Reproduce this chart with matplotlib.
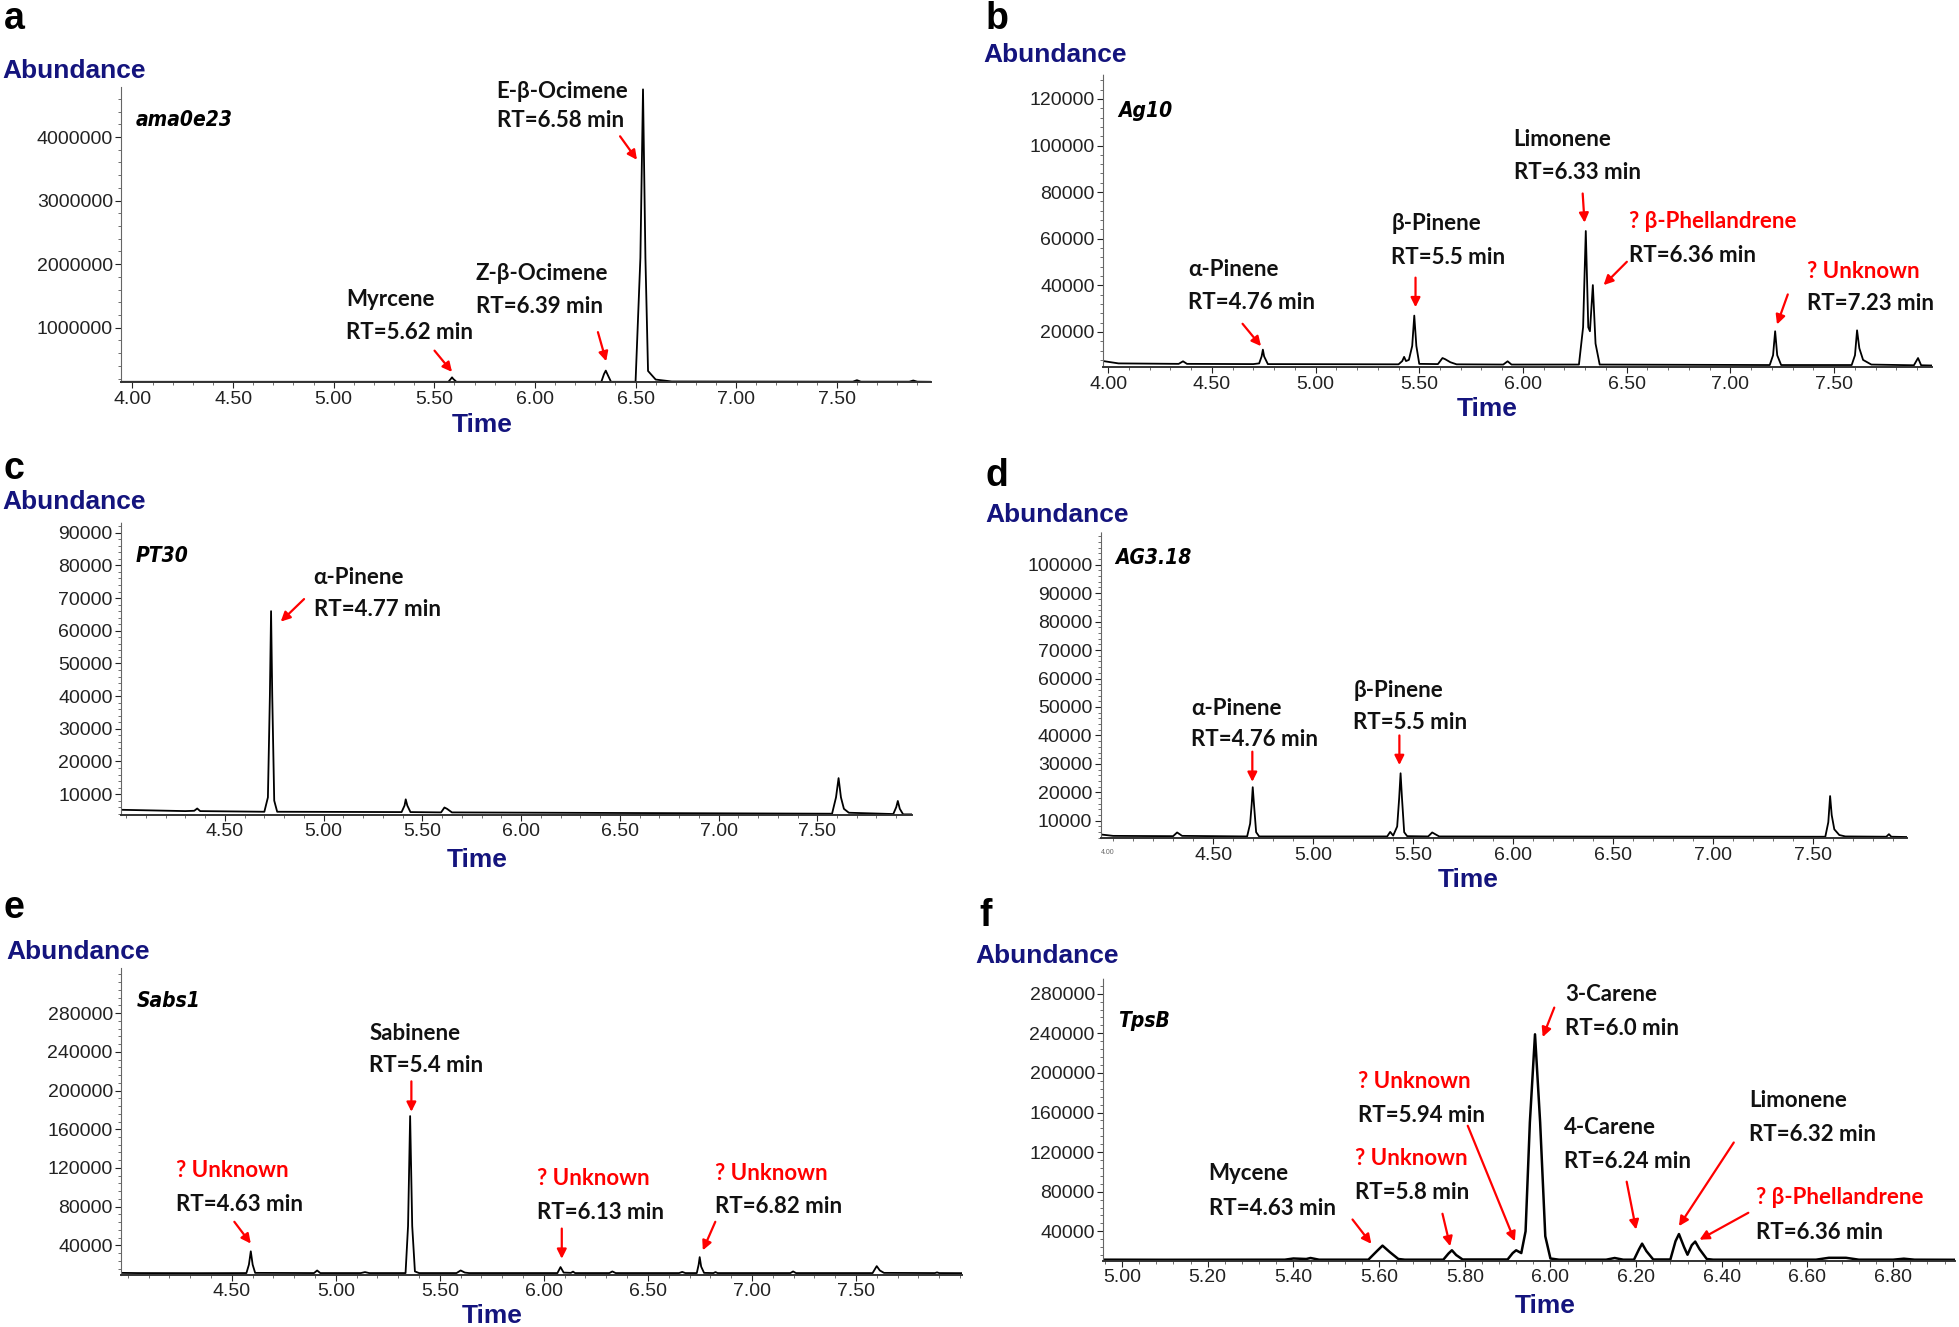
import matplotlib.pyplot as plt
from matplotlib.ticker import AutoMinorLocator

plt.rcParams['font.family'] = ['Liberation Sans', 'DejaVu Sans']
LBL = ['Lato', 'DejaVu Sans']
NAVY = '#14147d'
RED = '#ff0000'
W, H = 1568, 1062   # layout grid of the reference (px)

#%% data: chromatogram vertices (time min, abundance)
trace_a = [(3.944, 150000), (5.570, 150000), (5.582, 195000), (5.588, 220000), (5.594, 195000),
           (5.610, 150000), (6.330, 150000), (6.343, 270000), (6.352, 326000), (6.360, 270000),
           (6.378, 150000), (6.500, 150000), (6.524, 2100000), (6.537, 4750000), (6.549, 2100000),
           (6.562, 320000), (6.600, 185000), (6.680, 155000), (7.580, 152000), (7.600, 175000),
           (7.620, 152000), (7.860, 152000), (7.880, 170000), (7.900, 152000), (7.967, 150000)]

trace_b = [(3.976, 7500), (4.05, 6500), (4.34, 6300), (4.361, 7400), (4.38, 6300), (4.70, 6200),
           (4.728, 6500), (4.740, 9500), (4.746, 12400), (4.752, 9500), (4.770, 6200), (5.40, 6100),
           (5.418, 7500), (5.427, 9300), (5.436, 7500), (5.450, 8000), (5.466, 14000), (5.476, 27000),
           (5.486, 14000), (5.500, 6300), (5.590, 6200), (5.612, 8800), (5.625, 8300), (5.650, 7000),
           (5.680, 6100), (5.905, 6000), (5.926, 7400), (5.945, 6000), (6.270, 6000), (6.290, 22000),
           (6.303, 63300), (6.315, 22000), (6.323, 20300), (6.337, 40100), (6.350, 15000), (6.370, 6000),
           (7.190, 5800), (7.206, 10000), (7.216, 20300), (7.226, 10000), (7.245, 5800), (7.585, 5800),
           (7.601, 10000), (7.611, 20700), (7.622, 13000), (7.640, 8000), (7.680, 6000), (7.885, 5700),
           (7.905, 8800), (7.920, 5700), (7.970, 5600)]

trace_c = [(3.975, 5200), (4.30, 4800), (4.345, 4900), (4.36, 5600), (4.375, 4800), (4.70, 4600),
           (4.718, 9000), (4.728, 40000), (4.734, 66000), (4.740, 40000), (4.750, 8000), (4.765, 4600),
           (5.395, 4500), (5.410, 6500), (5.416, 8400), (5.424, 6500), (5.440, 4500), (5.595, 4400),
           (5.612, 5900), (5.625, 5500), (5.650, 4400), (7.575, 4000), (7.595, 9000), (7.608, 14900),
           (7.620, 9000), (7.635, 5500), (7.660, 4300), (7.885, 3900), (7.900, 6000), (7.908, 7900),
           (7.918, 5500), (7.935, 3800), (7.980, 3800)]

trace_d = [(3.938, 5200), (4.00, 4700), (4.30, 4600), (4.32, 5900), (4.345, 4700), (4.67, 4500),
           (4.685, 9000), (4.693, 16000), (4.698, 21800), (4.704, 16000), (4.715, 6000), (4.73, 4500),
           (5.37, 4500), (5.385, 6100), (5.40, 4800), (5.42, 8000), (5.430, 18000), (5.437, 26700),
           (5.444, 18000), (5.455, 6000), (5.47, 4600), (5.575, 4500), (5.595, 5900), (5.61, 5300),
           (5.63, 4500), (7.560, 4400), (7.575, 9500), (7.584, 18700), (7.592, 12000), (7.605, 7000),
           (7.63, 5000), (7.66, 4500), (7.865, 4400), (7.878, 5300), (7.89, 4400), (7.966, 4300)]

trace_e = [(3.968, 11500), (4.05, 11300), (4.33, 11200), (4.57, 11300), (4.582, 20000), (4.591, 33800),
           (4.600, 20000), (4.612, 11500), (4.895, 11300), (4.910, 14000), (4.925, 11300), (5.12, 11300),
           (5.14, 12300), (5.16, 11300), (5.335, 11300), (5.347, 60000), (5.357, 173600), (5.367, 60000),
           (5.380, 13000), (5.40, 11300), (5.58, 11300), (5.600, 14000), (5.62, 11800), (5.64, 11300),
           (6.065, 11300), (6.080, 17500), (6.095, 11800), (6.130, 11500), (6.140, 12800), (6.150, 11300),
           (6.315, 11300), (6.329, 13000), (6.345, 11300), (6.65, 11300), (6.665, 12500), (6.68, 11300),
           (6.735, 11300), (6.744, 20000), (6.749, 27800), (6.756, 18000), (6.770, 11500), (6.815, 11300),
           (6.825, 12300), (6.835, 11300), (7.185, 11300), (7.198, 13000), (7.212, 11300), (7.580, 11300),
           (7.600, 18500), (7.615, 14000), (7.635, 11500), (7.88, 11300), (7.89, 12000), (7.90, 11300),
           (8.01, 11200)]

trace_f = [(4.956, 11300), (5.10, 11200), (5.38, 11300), (5.40, 12500), (5.43, 12000), (5.44, 13000),
           (5.46, 11300), (5.575, 11300), (5.595, 20000), (5.608, 25500), (5.625, 19000), (5.645, 12000),
           (5.66, 11300), (5.750, 11300), (5.762, 17500), (5.770, 20800), (5.780, 16000), (5.795, 11500),
           (5.900, 11500), (5.912, 18000), (5.920, 20800), (5.932, 18000), (5.942, 40000), (5.952, 150000),
           (5.964, 239000), (5.976, 150000), (5.988, 35000), (6.00, 12500), (6.02, 11300), (6.13, 11300),
           (6.15, 13000), (6.17, 11300), (6.195, 11300), (6.207, 22000), (6.214, 27500), (6.224, 20000),
           (6.240, 11500), (6.280, 11500), (6.292, 30000), (6.300, 37200), (6.312, 24000), (6.320, 16300),
           (6.330, 26000), (6.338, 29600), (6.348, 22000), (6.365, 12000), (6.38, 11300), (6.62, 11300),
           (6.65, 13200), (6.69, 13200), (6.72, 11300), (6.80, 11300), (6.825, 12300), (6.85, 11300),
           (6.945, 11200)]

samples = ['ama0e23', 'Ag10', 'PT30', 'AG3.18', 'Sabs1', 'TpsB']

# peak labels: name, RT text, name in red?, text (x, y line1, y line2), arrow tail, arrow head
labels_a = [("Myrcene", "RT=5.62 min", False, (5.060, 1446000, 919000), (5.501, 640000), (5.588, 305000)),
            ("Z-β-Ocimene", "RT=6.39 min", False, (5.705, 1853000, 1342000), (6.313, 931000), (6.354, 473000)),
            ("E-β-Ocimene", "RT=6.58 min", False, (5.810, 4713000, 4265000), (6.423, 4012000), (6.507, 3642000))]
labels_b = [("α-Pinene", "RT=4.76 min", False, (4.385, 46800, 32500), (4.648, 23500), (4.737, 13900)),
            ("β-Pinene", "RT=5.5 min", False, (5.365, 66500, 52100), (5.482, 43300), (5.482, 30600)),
            ("Limonene", "RT=6.33 min", False, (5.955, 102700, 88400), (6.288, 79400), (6.297, 66900)),
            ("? β-Phellandrene", "RT=6.36 min", True, (6.512, 67300, 53000), (6.501, 50100), (6.389, 40100)),
            ("? Unknown", "RT=7.23 min", True, (7.370, 46100, 32100), (7.277, 36100), (7.225, 23200))]
labels_c = [("α-Pinene", "RT=4.77 min", False, (4.950, 76300, 66600), (4.901, 69700), (4.783, 62800))]
labels_d = [("α-Pinene", "RT=4.76 min", False, (4.390, 49600, 38400), (4.696, 34300), (4.696, 23700)),
            ("β-Pinene", "RT=5.5 min", False, (5.200, 55700, 44600), (5.431, 40000), (5.431, 29600))]
labels_e = [("? Unknown", "RT=4.63 min", True, (4.232, 117000, 82300), (4.512, 64300), (4.591, 41800)),
            ("Sabinene", "RT=5.4 min", False, (5.160, 259300, 225800), (5.363, 209500), (5.363, 178100)),
            ("? Unknown", "RT=6.13 min", True, (5.965, 108700, 74000), (6.086, 57300), (6.086, 26100)),
            ("? Unknown", "RT=6.82 min", True, (6.822, 114700, 80000), (6.824, 64300), (6.764, 34800))]
labels_f = [("Mycene", "RT=4.63 min", False, (5.202, 98300, 63100), (5.538, 51900), (5.582, 27300)),
            ("? Unknown", "RT=5.8 min", True, (5.544, 113800, 79000), (5.748, 57700), (5.766, 24900)),
            ("? Unknown", "RT=5.94 min", True, (5.551, 191700, 156700), (5.807, 146600), (5.917, 29900)),
            ("3-Carene", "RT=6.0 min", False, (6.034, 279600, 244700), (6.009, 266000), (5.982, 236200)),
            ("4-Carene", "RT=6.24 min", False, (6.031, 144900, 110400), (6.178, 90100), (6.200, 41800)),
            ("Limonene", "RT=6.32 min", False, (6.464, 172600, 138200), (6.428, 129700), (6.300, 45200)),
            ("? β-Phellandrene", "RT=6.36 min", True, (6.479, 73800, 38400), (6.462, 58700), (6.348, 31500))]

xt_a = [4.0, 4.5, 5.0, 5.5, 6.0, 6.5, 7.0, 7.5]
xt_c = [4.5, 5.0, 5.5, 6.0, 6.5, 7.0, 7.5]
xt_f = [5.0, 5.2, 5.4, 5.6, 5.8, 6.0, 6.2, 6.4, 6.6, 6.8]
yt_a = [1000000, 2000000, 3000000, 4000000]
yt_b = [20000, 40000, 60000, 80000, 100000, 120000]
yt_c = [10000, 20000, 30000, 40000, 50000, 60000, 70000, 80000, 90000]
yt_d = [10000, 20000, 30000, 40000, 50000, 60000, 70000, 80000, 90000, 100000]
yt_e = [40000, 80000, 120000, 160000, 200000, 240000, 280000]


#%%
def box(l, t, r, b):
    return [l / W, 1 - b / H, (r - l) / W, (b - t) / H]


def figtext(fig, x, y, s, **kw):
    fig.text(x / W, 1 - y / H, s, **kw)


def panel(fig, rect, trace, xlim, ylim, xticks, yticks, sample, samp_y, labels, lw=1.3):
    ax = fig.add_axes(box(*rect))
    t, y = zip(*trace)
    ax.plot(t, y, color='k', lw=lw, solid_joinstyle='round')
    ax.set_xlim(xlim)
    ax.set_ylim(ylim)
    for s in ['top', 'right']:
        ax.spines[s].set_visible(False)
    ax.spines['left'].set_color('#666666')
    ax.spines['left'].set_linewidth(0.8)
    ax.spines['left'].set_linestyle((0, (2, 1)))
    ax.spines['bottom'].set_color('#333333')
    ax.spines['bottom'].set_linewidth(1.4)
    ax.set_xticks(xticks)
    ax.set_xticklabels(['%.2f' % v for v in xticks])
    ax.set_yticks(yticks)
    ax.set_yticklabels([str(v) for v in yticks])
    ax.xaxis.set_minor_locator(AutoMinorLocator(5))
    ax.yaxis.set_minor_locator(AutoMinorLocator(5))
    ax.tick_params(which='major', length=4, width=0.8, labelsize=14, colors='#222222', pad=2)
    ax.tick_params(which='minor', length=2, width=0.6, colors='#555555')
    ax.text(xlim[0] + 0.018 * (xlim[1] - xlim[0]), samp_y, sample, fontsize=15, fontweight='heavy',
            style='italic', family=['DejaVu Sans'], stretch='condensed', va='center', ha='left')
    for name, rt, red, (tx, ty1, ty2), tail, head in labels:
        ax.text(tx, ty1, name, color=RED if red else '#111111', fontsize=16, fontweight='bold',
                family=LBL, va='center', ha='left', clip_on=False)
        ax.text(tx, ty2, rt, color='#111111', fontsize=16, fontweight='bold',
                family=LBL, va='center', ha='left', clip_on=False)
        ax.annotate('', xy=head, xytext=tail,
                    arrowprops=dict(arrowstyle='-|>', color=RED, lw=1.6, mutation_scale=14,
                                    shrinkA=0, shrinkB=0))
    return ax


fig = plt.figure(figsize=(19.59, 13.27), dpi=100)

panel(fig, (97, 70, 745, 306), trace_a, (3.944, 7.967), (141000, 4780000), xt_a, yt_a,
      samples[0], 4265000, labels_a)
panel(fig, (883, 59, 1546, 294), trace_b, (3.976, 7.97), (4800, 130800), xt_a, yt_b,
      samples[1], 114900, labels_b)
panel(fig, (97, 418, 730, 652), trace_c, (3.975, 7.98), (3700, 93200), xt_c, yt_c,
      samples[2], 82900, labels_c)
ax_d = panel(fig, (881, 426, 1526, 671), trace_d, (3.938, 7.966), (3800, 111400), xt_c, yt_d,
             samples[3], 102300, labels_d)
ax_d.text(3.94, -0.035, '4.00', transform=ax_d.get_xaxis_transform(), fontsize=5, color='#666666',
          ha='left', va='top')
panel(fig, (97, 775, 770, 1020), trace_e, (3.968, 8.01), (9800, 326300), xt_c, yt_e,
      samples[4], 292700, labels_e)
panel(fig, (883, 783, 1565, 1009), trace_f, (4.956, 6.945), (10200, 295500), xt_f, yt_e,
      samples[5], 252100, labels_f, lw=1.8)

# panel letters, axis titles
letters = [('a', 3, 15), ('b', 789, 15), ('c', 3, 375), ('d', 789, 381), ('e', 3, 727), ('f', 784, 733)]
for s, x, y in letters:
    figtext(fig, x, y, s, fontsize=27, fontweight='bold', ha='left', va='center')

abund = [(2, 57), (787, 44), (2, 402), (789, 412), (5, 762), (781, 765)]
for x, y in abund:
    figtext(fig, x, y, 'Abundance', fontsize=19, fontweight='bold', color=NAVY, ha='left', va='center')

times = [(386, 340), (1190, 327), (382, 688), (1175, 704), (394, 1053), (1237, 1045)]
for x, y in times:
    figtext(fig, x, y, 'Time', fontsize=19, fontweight='bold', color=NAVY, ha='center', va='center')

fig.savefig('out.png', dpi=100)
